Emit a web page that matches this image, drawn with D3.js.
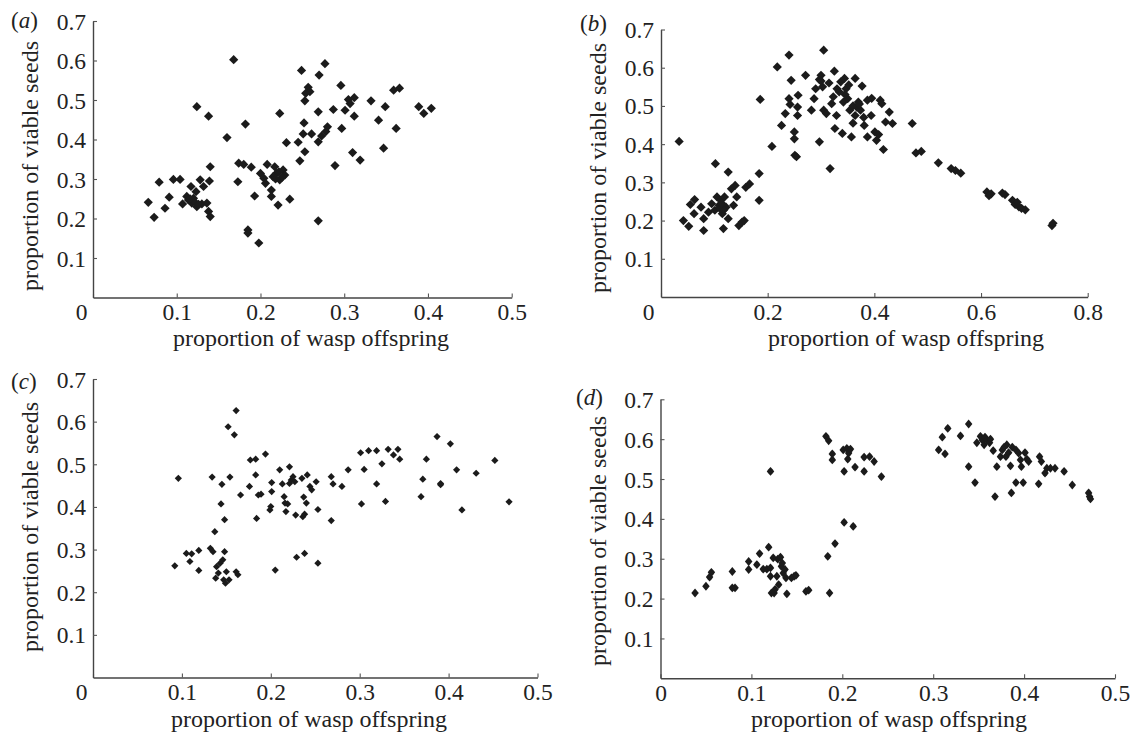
<!DOCTYPE html>
<html>
<head>
<meta charset="utf-8">
<script src="https://cdn.jsdelivr.net/npm/d3@7"></script>
<style>
  body { margin: 0; background: #fff; }
  svg { display: block; font-family: "Liberation Serif", "Times New Roman", serif; }
  .title { font-size: 24px; fill: #222; }
</style>
</head>
<body>
<svg id="chart" width="1130" height="735"></svg>
<script>
// values (proportion of wasp offspring vs proportion of viable seeds)
const waspA = [0.168,0.124,0.138,0.160,0.182,0.066,0.073,0.079,0.086,0.091,0.096,0.104,0.107,0.112,0.114,0.117,0.118,0.120,0.123,0.124,
  0.128,0.130,0.132,0.136,0.139,0.140,0.138,0.140,0.173,0.174,0.180,0.189,0.185,0.185,0.193,0.198,0.200,0.204,0.208,0.206,
  0.213,0.213,0.221,0.217,0.219,0.223,0.227,0.229,0.215,0.223,0.231,0.235,0.245,0.247,0.249,0.252,0.251,0.253,0.253,0.257,
  0.259,0.254,0.261,0.270,0.269,0.269,0.269,0.273,0.277,0.278,0.280,0.287,0.289,0.296,0.297,0.301,0.305,0.307,0.312,0.312,
  0.310,0.319,0.332,0.341,0.347,0.349,0.359,0.362,0.366,0.389,0.395,0.404,0.222,0.226,0.218,0.121,0.126,0.116];
const seedsA = [0.602,0.483,0.459,0.405,0.439,0.241,0.203,0.292,0.226,0.254,0.299,0.299,0.237,0.256,0.247,0.281,0.239,0.251,0.268,0.230,
  0.298,0.237,0.281,0.239,0.295,0.331,0.218,0.205,0.293,0.340,0.337,0.330,0.171,0.163,0.257,0.138,0.314,0.302,0.337,0.289,
  0.272,0.256,0.234,0.331,0.314,0.298,0.323,0.310,0.306,0.466,0.392,0.249,0.393,0.346,0.575,0.442,0.414,0.369,0.498,0.532,
  0.521,0.517,0.414,0.563,0.470,0.394,0.194,0.409,0.592,0.420,0.432,0.476,0.334,0.537,0.428,0.474,0.501,0.491,0.506,0.459,
  0.367,0.348,0.498,0.449,0.378,0.483,0.525,0.428,0.530,0.483,0.466,0.479,0.318,0.305,0.300,0.243,0.236,0.250];

const waspB = [0.034,0.186,0.218,0.240,0.305,0.325,0.271,0.244,0.257,0.240,0.242,0.233,0.226,0.208,0.184,0.184,0.250,0.250,0.251,0.254,
  0.256,0.256,0.282,0.287,0.290,0.297,0.297,0.300,0.303,0.305,0.310,0.317,0.320,0.323,0.326,0.329,0.334,0.337,0.340,0.342,
  0.344,0.347,0.350,0.354,0.357,0.360,0.364,0.364,0.367,0.370,0.374,0.377,0.381,0.387,0.387,0.394,0.401,0.404,0.411,0.414,
  0.417,0.421,0.428,0.434,0.471,0.478,0.488,0.520,0.544,0.552,0.562,0.611,0.619,0.640,0.659,0.664,0.671,0.683,0.733,0.735,
  0.042,0.052,0.055,0.063,0.062,0.075,0.080,0.080,0.089,0.095,0.102,0.101,0.105,0.109,0.112,0.115,0.117,0.119,0.122,0.126,
  0.126,0.132,0.136,0.139,0.142,0.146,0.152,0.156,0.159,0.166,
  0.315,0.330,0.345,0.360,0.372,0.380,0.395,0.408,0.300,0.352,0.110,0.118,0.114,0.668,0.676,0.615,0.645];
const seedsB = [0.407,0.517,0.602,0.633,0.646,0.591,0.580,0.567,0.528,0.519,0.504,0.480,0.449,0.394,0.323,0.253,0.432,0.414,0.371,0.367,
  0.497,0.475,0.489,0.519,0.545,0.406,0.569,0.580,0.550,0.489,0.480,0.336,0.506,0.524,0.441,0.475,0.537,0.563,0.428,0.510,
  0.572,0.545,0.519,0.489,0.419,0.455,0.572,0.475,0.497,0.510,0.489,0.552,0.449,0.515,0.419,0.475,0.432,0.410,0.515,0.506,
  0.386,0.458,0.484,0.454,0.454,0.377,0.381,0.351,0.336,0.331,0.324,0.275,0.270,0.272,0.253,0.242,0.236,0.228,0.187,0.193,
  0.200,0.185,0.242,0.255,0.218,0.235,0.174,0.205,0.222,0.244,0.349,0.227,0.262,0.240,0.253,0.218,0.179,0.262,0.235,0.327,
  0.205,0.283,0.240,0.292,0.262,0.187,0.196,0.200,0.287,0.296,
  0.560,0.545,0.530,0.500,0.505,0.470,0.520,0.425,0.565,0.555,0.232,0.228,0.245,0.248,0.232,0.265,0.268];

const waspC = [0.096,0.092,0.105,0.109,0.111,0.119,0.119,0.132,0.134,0.135,0.137,0.138,0.139,0.141,0.143,0.144,0.145,0.146,0.147,0.148,
  0.149,0.148,0.150,0.152,0.153,0.154,0.159,0.161,0.161,0.163,0.166,0.176,0.177,0.183,0.183,0.184,0.186,0.189,0.194,0.199,
  0.200,0.201,0.201,0.205,0.210,0.213,0.215,0.216,0.217,0.219,0.221,0.221,0.223,0.225,0.227,0.228,0.229,0.235,0.236,0.237,
  0.238,0.238,0.240,0.241,0.244,0.246,0.251,0.253,0.253,0.268,0.268,0.270,0.280,0.287,0.301,0.302,0.305,0.310,0.319,0.319,
  0.325,0.329,0.332,0.338,0.343,0.345,0.369,0.371,0.375,0.387,0.391,0.391,0.402,0.409,0.415,0.431,0.452,0.468];
const seedsC = [0.467,0.262,0.291,0.272,0.290,0.298,0.251,0.303,0.470,0.295,0.342,0.233,0.260,0.245,0.268,0.407,0.453,0.276,0.229,0.295,
  0.221,0.370,0.248,0.588,0.229,0.470,0.569,0.626,0.248,0.241,0.428,0.448,0.510,0.512,0.475,0.373,0.428,0.430,0.524,0.393,
  0.401,0.436,0.457,0.252,0.487,0.454,0.424,0.409,0.389,0.407,0.494,0.455,0.463,0.471,0.459,0.381,0.282,0.467,0.377,0.423,
  0.291,0.383,0.409,0.475,0.448,0.440,0.459,0.394,0.268,0.368,0.471,0.454,0.448,0.487,0.527,0.407,0.488,0.532,0.532,0.454,
  0.501,0.413,0.535,0.522,0.535,0.512,0.424,0.465,0.512,0.565,0.455,0.452,0.548,0.487,0.393,0.479,0.509,0.412];

const waspD = [0.038,0.050,0.054,0.056,0.079,0.079,0.082,0.097,0.097,0.106,0.109,0.113,0.117,0.119,0.121,0.121,0.121,0.122,0.124,0.125,
  0.126,0.128,0.129,0.130,0.132,0.133,0.134,0.135,0.137,0.139,0.138,0.144,0.147,0.149,0.160,0.163,0.182,0.185,0.184,0.186,
  0.189,0.189,0.192,0.201,0.202,0.202,0.205,0.206,0.207,0.209,0.212,0.214,0.224,0.224,0.230,0.235,0.243,0.306,0.310,0.313,
  0.316,0.330,0.339,0.339,0.346,0.348,0.352,0.354,0.356,0.357,0.359,0.362,0.363,0.366,0.368,0.370,0.374,0.376,0.378,0.380,
  0.381,0.383,0.385,0.386,0.387,0.391,0.391,0.394,0.396,0.397,0.399,0.401,0.403,0.405,0.416,0.417,0.419,0.423,0.425,0.429,
  0.434,0.444,0.453,0.471,0.472,0.473];
const seedsD = [0.214,0.231,0.254,0.266,0.268,0.227,0.227,0.293,0.273,0.285,0.313,0.274,0.274,0.329,0.519,0.277,0.256,0.214,0.302,0.214,
  0.223,0.256,0.299,0.235,0.304,0.281,0.289,0.264,0.273,0.212,0.252,0.252,0.256,0.258,0.218,0.221,0.607,0.596,0.306,0.214,
  0.563,0.548,0.338,0.573,0.519,0.391,0.577,0.550,0.565,0.575,0.381,0.530,0.555,0.519,0.556,0.544,0.506,0.573,0.605,0.563,
  0.627,0.608,0.638,0.531,0.491,0.591,0.607,0.598,0.586,0.605,0.598,0.591,0.600,0.571,0.456,0.531,0.556,0.573,0.580,0.556,
  0.586,0.566,0.533,0.465,0.580,0.573,0.491,0.565,0.548,0.531,0.491,0.566,0.550,0.544,0.488,0.556,0.544,0.515,0.527,0.527,
  0.527,0.519,0.485,0.465,0.456,0.450];

const xTicksHalf = [0, 0.1, 0.2, 0.3, 0.4, 0.5];
const xTicksB = [0, 0.2, 0.4, 0.6, 0.8];
const yTicks = [0.1, 0.2, 0.3, 0.4, 0.5, 0.6, 0.7];

const xLabel = 'proportion of wasp offspring';
const yLabel = 'proportion of viable seeds';

const serif = '"Liberation Serif", "Times New Roman", serif';

// marker paths
function diamond(r) {
  return `M0,${-r}L${r},0L0,${r}L${-r},0Z`;
}
function star(r, k) {
  // four-pointed star, inner radius k
  return `M0,${-r}L${k},${-k}L${r * 0.85},0L${k},${k}L0,${r}L${-k},${k}L${-r * 0.85},0L${-k},${-k}Z`;
}

const panels = [
  { tag: 'a', x: waspA, y: seedsA, xMax: 0.5, xTicks: xTicksHalf,
    left: 93, right: 511.7, top: 21, bottom: 297.5, zeroShift: -12,
    tagPos: [11, 28], xTitle: [311, 346], yTitle: [38, 166], mark: diamond(4.6) },
  { tag: 'b', x: waspB, y: seedsB, xMax: 0.8, xTicks: xTicksB,
    left: 661, right: 1087.7, top: 29.5, bottom: 297, zeroShift: -13,
    tagPos: [580, 31], xTitle: [906, 346], yTitle: [606, 168], mark: diamond(4.6) },
  { tag: 'c', x: waspC, y: seedsC, xMax: 0.5, xTicks: xTicksHalf,
    left: 93, right: 537.5, top: 379, bottom: 677.5, zeroShift: -12,
    tagPos: [11, 389], xTitle: [309, 727], yTitle: [38, 527], mark: diamond(3.6) },
  { tag: 'd', x: waspD, y: seedsD, xMax: 0.5, xTicks: xTicksHalf,
    left: 660.5, right: 1115, top: 399.3, bottom: 678.3, zeroShift: 0,
    tagPos: [576, 405], xTitle: [889, 727], yTitle: [606, 541], mark: star(4.4, 2.1) }
];

const svg = d3.select('#chart');
const fmt = d => d === 0 ? '0' : d3.format('.1f')(d);

panels.forEach(p => {
  let x = d3.scaleLinear().domain([0, p.xMax]).range([p.left, p.right]);
  let y = d3.scaleLinear().domain([0, 0.7]).range([p.bottom, p.top]);

  let g = svg.append('g').attr('class', 'panel panel-' + p.tag);

  // x axis, ticks pointing inward
  let gx = g.append('g')
    .attr('transform', `translate(0,${p.bottom})`)
    .call(d3.axisBottom(x).tickValues(p.xTicks).tickFormat(fmt)
      .tickSizeInner(-4).tickSizeOuter(0).tickPadding(6));

  gx.selectAll('.tick text')
    .attr('dx', d => d === 0 ? p.zeroShift : 0);

  // y axis
  let gy = g.append('g')
    .attr('transform', `translate(${p.left},0)`)
    .call(d3.axisLeft(y).tickValues(yTicks).tickFormat(fmt)
      .tickSizeInner(-4).tickSizeOuter(0).tickPadding(7));

  gy.selectAll('.tick text').attr('dy', '0.34em');

  [gx, gy].forEach(a => {
    a.attr('font-family', serif).attr('font-size', 23.5);
    a.selectAll('.tick text').attr('fill', '#222');
    a.select('.domain').attr('stroke', '#444').attr('stroke-width', 1.4);
    a.selectAll('.tick line').attr('stroke', '#555').attr('stroke-width', 1.1);
  });

  // points
  let pts = d3.zip(p.x, p.y);
  g.append('g')
    .selectAll('path')
    .data(pts)
    .enter()
    .append('path')
    .attr('d', p.mark)
    .attr('transform', d => `translate(${x(d[0])},${y(d[1])})`)
    .attr('fill', '#1b1b1b');

  // titles
  g.append('text')
    .attr('class', 'title')
    .attr('x', p.xTitle[0])
    .attr('y', p.xTitle[1])
    .attr('text-anchor', 'middle')
    .text(xLabel);

  g.append('text')
    .attr('class', 'title')
    .attr('text-anchor', 'middle')
    .attr('transform', `translate(${p.yTitle[0]},${p.yTitle[1]})rotate(-90)`)
    .text(yLabel);

  let t = g.append('text')
    .attr('class', 'title')
    .attr('x', p.tagPos[0])
    .attr('y', p.tagPos[1])
    .style('font-size', '23px');
  t.append('tspan').text('(');
  t.append('tspan').style('font-style', 'italic').text(p.tag);
  t.append('tspan').text(')');
});
</script>
</body>
</html>
